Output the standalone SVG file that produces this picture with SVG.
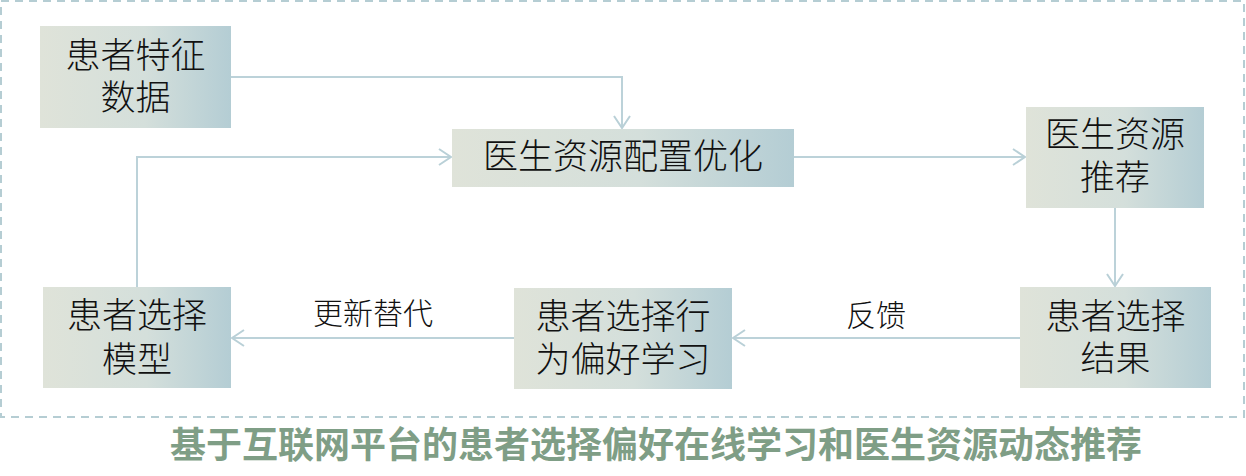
<svg xmlns="http://www.w3.org/2000/svg" width="1246" height="476" viewBox="0 0 1246 476">
<defs>
<linearGradient id="g" x1="0" y1="0" x2="1" y2="0">
<stop offset="0" stop-color="#dfe3d9"/>
<stop offset="0.55" stop-color="#d4dfdb"/>
<stop offset="1" stop-color="#b4cdd4"/>
</linearGradient>
<marker id="arr" viewBox="0 0 14 18" refX="13" refY="9" markerWidth="14" markerHeight="18" markerUnits="userSpaceOnUse" orient="auto">
<path d="M1,1 L13,9 L1,17" fill="none" stroke="#b9d0d7" stroke-width="2"/>
</marker>
<style>
.box{fill:url(#g);}
.t{font-family:"Noto Sans CJK SC","Noto Sans",sans-serif;font-size:35px;font-weight:300;fill:#111;text-anchor:middle;}
.lbl{font-family:"Noto Sans CJK SC","Noto Sans",sans-serif;font-size:30px;font-weight:300;fill:#111;text-anchor:middle;}
.c{fill:none;stroke:#bcd2d9;stroke-width:2;marker-end:url(#arr);}
.title{font-family:"Noto Sans CJK SC","Noto Sans",sans-serif;font-size:36px;font-weight:bold;fill:#7f9e86;text-anchor:middle;}
</style>
</defs>
<rect x="1" y="1" width="1243" height="416" fill="none" stroke="#b5cdd3" stroke-width="2" stroke-dasharray="8,6"/>
<g id="connectors">
<path class="c" d="M231,77 H622 V128"/>
<path class="c" d="M137,287 V157 H451"/>
<path class="c" d="M794,157 H1025"/>
<path class="c" d="M1115,208 V286"/>
<path class="c" d="M1020,338 H733"/>
<path class="c" d="M514,338 H232"/>
<text class="lbl" x="373" y="324">更新替代</text>
<text class="lbl" x="876" y="326">反馈</text>
</g>
<g id="node-features">
<rect class="box" x="40" y="26" width="191" height="102"/>
<text class="t"><tspan x="135.5" y="68">患者特征</tspan><tspan x="135.5" y="110">数据</tspan></text>
</g>
<g id="node-optimize">
<rect class="box" x="452" y="129" width="342" height="58"/>
<text class="t" x="623" y="168.5">医生资源配置优化</text>
</g>
<g id="node-recommend">
<rect class="box" x="1026" y="107" width="178" height="101"/>
<text class="t"><tspan x="1115" y="146.5">医生资源</tspan><tspan x="1115" y="189.5">推荐</tspan></text>
</g>
<g id="node-result">
<rect class="box" x="1020" y="287" width="191" height="101"/>
<text class="t"><tspan x="1115.5" y="328.5">患者选择</tspan><tspan x="1115.5" y="370.5">结果</tspan></text>
</g>
<g id="node-learning">
<rect class="box" x="514" y="288" width="218" height="101"/>
<text class="t"><tspan x="623" y="328.5">患者选择行</tspan><tspan x="623" y="371.5">为偏好学习</tspan></text>
</g>
<g id="node-model">
<rect class="box" x="43" y="287" width="188" height="101"/>
<text class="t"><tspan x="137" y="327.5">患者选择</tspan><tspan x="137" y="371.5">模型</tspan></text>
</g>
<text class="title" x="656" y="458">基于互联网平台的患者选择偏好在线学习和医生资源动态推荐</text>
</svg>
